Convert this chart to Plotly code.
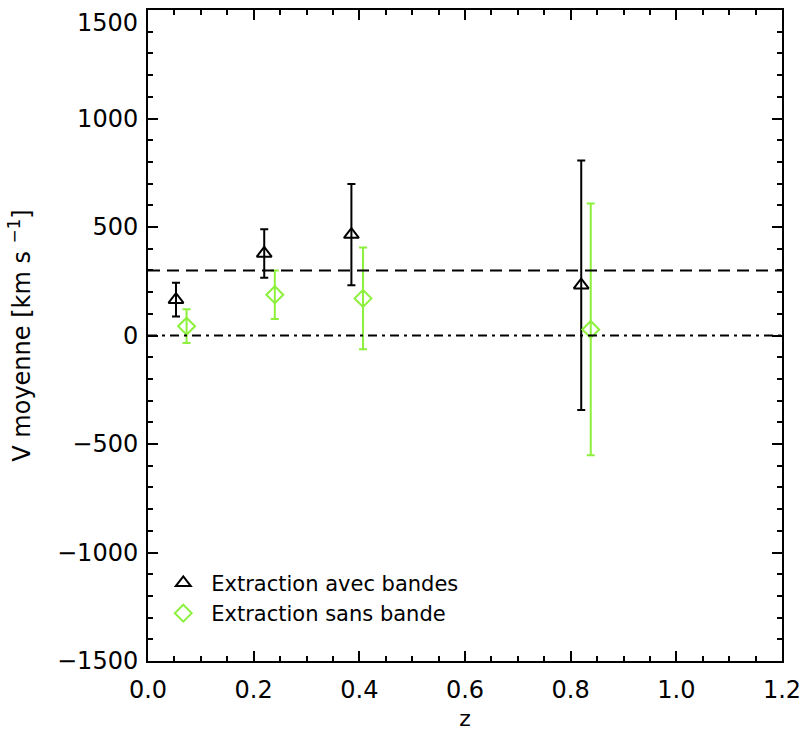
import plotly.graph_objects as go

z_avec = [0.053, 0.220, 0.385, 0.820]
v_avec = [165, 378, 465, 232]
err_avec = [78, 112, 233, 575]

z_sans = [0.073, 0.240, 0.407, 0.838]
v_sans = [43, 188, 171, 28]
err_sans = [78, 112, 234, 580]

y_tickvals = [-1500, -1000, -500, 0, 500, 1000, 1500]
y_ticktext = ["−1500", "−1000", "−500", "0", "500", "1000", ""]
top_label = "1500"

ref_dash = 300
ref_zero = 0

GREEN = "#8cf03c"
FONT = "DejaVu Sans"

fig = go.Figure()
fig.add_trace(go.Scatter(
    x=z_avec, y=v_avec, mode="markers", name="Extraction avec bandes",
    marker=dict(symbol="triangle-up-open", size=13, color="black", line=dict(width=2)),
    error_y=dict(type="data", array=err_avec, color="black", thickness=2, width=4),
))
fig.add_trace(go.Scatter(
    x=z_sans, y=v_sans, mode="markers", name="Extraction sans bande",
    marker=dict(symbol="diamond-open", size=13, color=GREEN, line=dict(width=2)),
    error_y=dict(type="data", array=err_sans, color=GREEN, thickness=2, width=4),
))
fig.add_hline(y=ref_dash, line=dict(color="black", width=2, dash="12px,7px"))
fig.add_hline(y=ref_zero, line=dict(color="black", width=2, dash="9px,5px,3px,5px"))

axis_common = dict(
    showgrid=False, zeroline=False, showline=True, linecolor="black", linewidth=2,
    mirror="ticks", ticks="inside", ticklen=10, tickwidth=2, tickcolor="black",
    tickfont=dict(family=FONT, size=24, color="black"),
    automargin=False, ticklabeloverflow="allow",
)
fig.update_xaxes(
    range=[0, 1.2], dtick=0.2, tick0=0, tickformat=".1f",
    minor=dict(dtick=0.05, ticks="inside", ticklen=5, tickwidth=2, tickcolor="black"),
    title=dict(text="z", font=dict(family=FONT, size=22, color="black"), standoff=14),
    ticklabelstandoff=6,
    **axis_common,
)
fig.update_yaxes(
    range=[-1500, 1500], tickmode="array", tickvals=y_tickvals, ticktext=y_ticktext,
    minor=dict(dtick=100, tick0=0, ticks="inside", ticklen=5, tickwidth=2, tickcolor="black"),
    title=dict(text="V moyenne [km s <sup>−1</sup>]", font=dict(family=FONT, size=24, color="black"), standoff=20),
    ticklabelstandoff=3,
    **axis_common,
)
fig.add_annotation(
    text=top_label, xref="paper", yref="paper", x=0, y=1, xanchor="right", yanchor="top",
    xshift=-8, yshift=3, showarrow=False, font=dict(family=FONT, size=24, color="black"),
)
fig.update_layout(
    width=802, height=731,
    margin=dict(l=148, r=20, t=10, b=70),
    plot_bgcolor="white", paper_bgcolor="white",
    showlegend=True,
    legend=dict(x=0.0115, y=0.151, xanchor="left", yanchor="top",
                bgcolor="rgba(0,0,0,0)", font=dict(family=FONT, size=21, color="black"),
                itemwidth=46, tracegroupgap=0),
)
fig.write_html("out.html")
